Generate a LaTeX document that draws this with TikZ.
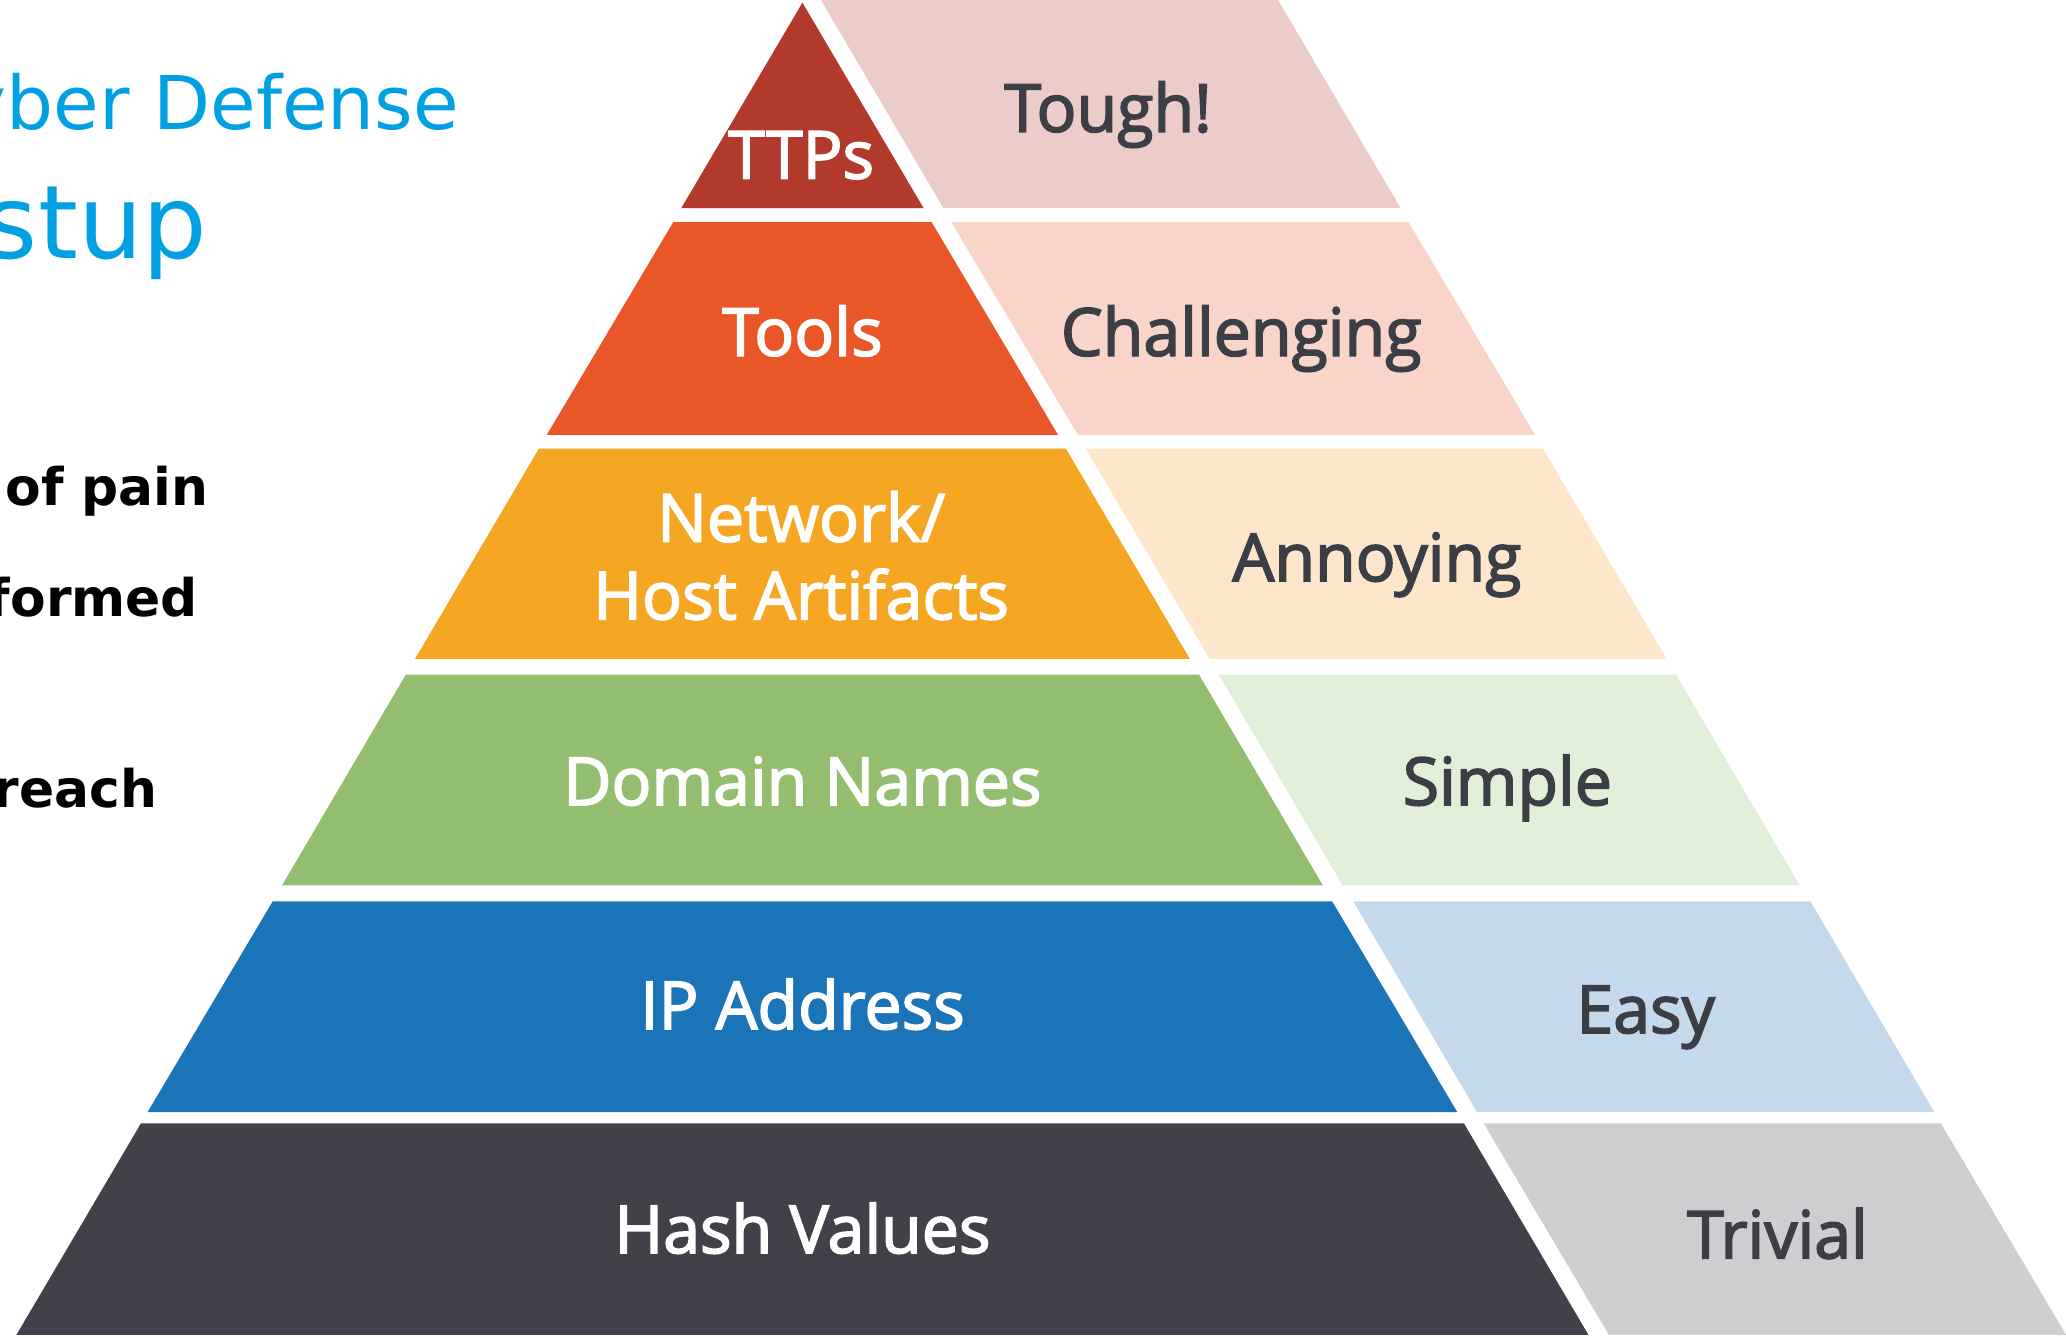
\documentclass[tikz,border=0pt]{standalone}
\usepackage{fontspec}
\usepackage{xcolor}
\usepackage{tikz}
\usetikzlibrary{positioning}

\newfontfamily\pyrfont{Open Sans}[FakeBold=2.5]
\newfontfamily\slidefont{DejaVu Sans}

\definecolor{ttpscol}{RGB}{177,58,44}
\definecolor{toolscol}{RGB}{233,86,39}
\definecolor{netcol}{RGB}{245,167,36}
\definecolor{domaincol}{RGB}{148,190,111}
\definecolor{ipcol}{RGB}{27,116,183}
\definecolor{hashcol}{RGB}{65,66,73}
\definecolor{toughcol}{RGB}{236,204,200}
\definecolor{chalcol}{RGB}{249,212,200}
\definecolor{annoycol}{RGB}{253,230,201}
\definecolor{simplecol}{RGB}{226,239,216}
\definecolor{easycol}{RGB}{196,218,236}
\definecolor{trivcol}{RGB}{206,206,208}
\definecolor{labelgray}{RGB}{60,62,70}
\definecolor{slideblue}{RGB}{0,160,227}

\begin{document}
\begin{tikzpicture}[x=1cm, y=-1cm,
        darklabel/.style={font=\pyrfont\fontsize{14.3}{17}\selectfont, text=white, inner sep=0pt, anchor=base},
        lightlabel/.style={darklabel, text=labelgray},
        titletext/.style={font=\slidefont\fontsize{16}{19}\selectfont, text=slideblue, inner sep=0pt, anchor=base east},
        bigtitle/.style={titletext, font=\slidefont\fontsize{22}{26}\selectfont},
        pointtext/.style={font=\slidefont\bfseries\fontsize{11.2}{13}\selectfont, text=black, inner sep=0pt, anchor=base east}
    ]

    \useasboundingbox (0,0) rectangle (15.68,10.15);
    \clip (0,0) rectangle (15.68,10.15);

    % Pyramid, left half
    \fill[ttpscol] (6.09,0.02) -- (7.01,1.58) -- (5.17,1.58) -- cycle;
    \fill[toolscol] (5.11,1.685) -- (7.07,1.685) -- (8.03,3.30) -- (4.15,3.30) -- cycle;
    \fill[netcol] (4.09,3.405) -- (8.09,3.405) -- (9.03,5.00) -- (3.15,5.00) -- cycle;
    \fill[domaincol] (3.08,5.12) -- (9.10,5.12) -- (10.04,6.72) -- (2.14,6.72) -- cycle;
    \fill[ipcol] (2.07,6.84) -- (10.11,6.84) -- (11.06,8.44) -- (1.12,8.44) -- cycle;
    \fill[hashcol] (1.07,8.525) -- (11.11,8.525) -- (12.055,10.13) -- (0.125,10.13) -- cycle;

    % Pyramid, right half
    \fill[toughcol] (6.23,0) -- (9.70,0) -- (10.63,1.58) -- (7.16,1.58) -- cycle;
    \fill[chalcol] (7.22,1.685) -- (10.69,1.685) -- (11.65,3.30) -- (8.18,3.30) -- cycle;
    \fill[annoycol] (8.24,3.405) -- (11.71,3.405) -- (12.65,5.00) -- (9.18,5.00) -- cycle;
    \fill[simplecol] (9.25,5.12) -- (12.72,5.12) -- (13.66,6.72) -- (10.19,6.72) -- cycle;
    \fill[easycol] (10.27,6.84) -- (13.74,6.84) -- (14.68,8.44) -- (11.21,8.44) -- cycle;
    \fill[trivcol] (11.26,8.525) -- (14.73,8.525) -- (15.68,10.13) -- (12.21,10.13) -- cycle;

    % Labels
    \node[darklabel] (ttps) at (6.08,1.355) {TTPs};
    \node[darklabel] (tools) at (6.09,2.70) {Tools};
    \node[darklabel] (net1) at (6.08,4.11) {Network/};
    \node[darklabel] (net2) at (6.08,4.70) {Host Artifacts};
    \node[darklabel] (domain) at (6.09,6.11) {Domain Names};
    \node[darklabel] (ip) at (6.09,7.81) {IP Address};
    \node[darklabel] (hash) at (6.09,9.51) {Hash Values};

    \node[lightlabel] (tough) at (8.41,1.00) {Tough!};
    \node[lightlabel] (chal) at (9.42,2.70) {Challenging};
    \node[lightlabel] (annoy) at (10.45,4.41) {Annoying};
    \node[lightlabel] (simple) at (11.44,6.11) {Simple};
    \node[lightlabel] (easy) at (12.49,7.84) {Easy};
    \node[lightlabel] (trivial) at (13.49,9.55) {Trivial};

    % Slide text cut off on the left
    \node[titletext] (title1) at (3.49,0.98) {yber Defense};
    \node[bigtitle] (title2) at (1.58,1.96) {stup};
    \node[pointtext] (pain) at (1.59,3.84) {of pain};
    \node[pointtext] (formed) at (1.51,4.68) {formed};
    \node[pointtext] (reach) at (1.20,6.13) {reach};
\end{tikzpicture}
\end{document}
